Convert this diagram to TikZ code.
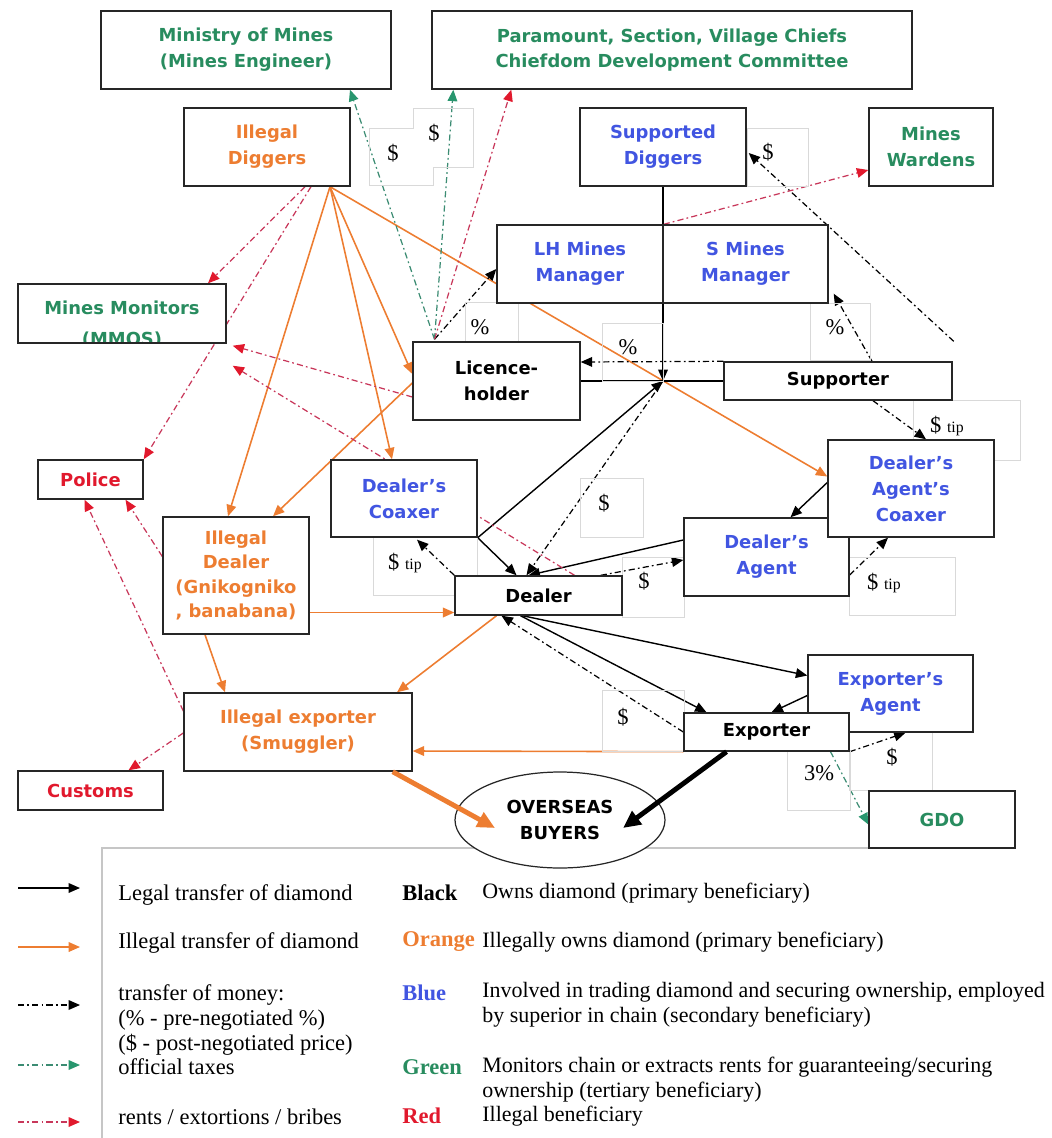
\documentclass[tikz,border=0pt]{standalone}
\usepackage{fontspec}
\setmainfont{Liberation Serif}
\newfontfamily\boxfont{DejaVu Sans}
\usetikzlibrary{arrows.meta,shapes.geometric}
\pgfdeclarelayer{lines}
\pgfsetlayers{lines,main}

\definecolor{mgreen}{RGB}{40,140,95}
\definecolor{morange}{RGB}{237,125,49}
\definecolor{mblue}{RGB}{65,85,225}
\definecolor{mred}{RGB}{225,25,45}
\definecolor{rentline}{RGB}{200,55,90}
\definecolor{taxline}{RGB}{60,140,115}
\definecolor{taxhead}{RGB}{40,150,110}

\tikzset{
  actor/.style={draw=black!85, line width=0.8pt, fill=white, align=center, inner sep=1pt,
    font=\boxfont\bfseries\fontsize{10.2}{14.7}\selectfont},
  boxtext/.style={anchor=base, inner sep=0pt, font=\boxfont\bfseries\fontsize{10.2}{14.7}\selectfont},
  sz/.style 2 args={minimum width=#1*0.02cm, minimum height=#2*0.02cm},
  moneydash/.style={dash pattern=on 3.5pt off 1.8pt on 1pt off 1.8pt},
  legal/.style={draw=black, line width=0.8pt, -{Triangle[length=6.5pt,width=5.5pt]}},
  illegal/.style={draw=morange, line width=0.9pt, -{Triangle[length=6.5pt,width=5.5pt]}},
  money/.style={draw=black, line width=0.7pt, moneydash, -{Triangle[length=6.5pt,width=5.5pt]}},
  tax/.style={draw=taxline, line width=0.7pt, moneydash, -{Triangle[length=6.5pt,width=5.5pt,color=taxhead]}},
  rent/.style={draw=rentline, line width=0.7pt, moneydash, -{Triangle[length=6.5pt,width=5.5pt,color=mred]}},
  plainlink/.style={draw=black, line width=0.8pt},
  tframe/.style={draw=gray!30, line width=0.3pt},
  legendline/.style={draw=gray!45, line width=0.6pt},
  lbl/.style={inner sep=0pt, font=\fontsize{12.8}{14}\selectfont},
  legtext/.style={anchor=west, align=left, inner sep=0pt, font=\fontsize{12.8}{14}\selectfont},
  legdesc/.style={legtext, font=\fontsize{12.5}{14}\selectfont},
  legcolour/.style={legtext, font=\bfseries\fontsize{12.8}{14}\selectfont},
}
\newcommand{\tipword}{{\fontsize{9}{10}\selectfont tip}}

\begin{document}
\begin{tikzpicture}[x=0.02cm, y=-0.02cm]
\useasboundingbox (0,0) rectangle (1051,1138);

% faint frames of the labels
\draw[tframe] (413,108) -- (473,108) -- (473,167) -- (433,167) -- (433,185) -- (369,185) -- (369,128) -- (413,128) -- cycle;
\draw[tframe] (747,128) rectangle (808,186);
\draw[tframe] (465,302) rectangle (518,342);
\draw[tframe] (602,323) rectangle (663,381);
\draw[tframe] (810,303) rectangle (870,360);
\draw[tframe] (913,400) rectangle (1020,460);
\draw[tframe] (580,478) rectangle (643,537);
\draw[tframe] (373,537) rectangle (477,595);
\draw[tframe] (622,557) rectangle (684,617);
\draw[tframe] (849,557) rectangle (955,615);
\draw[tframe] (602,690) rectangle (684,751);
\draw[tframe] (787,751) rectangle (850,810);
\draw[tframe] (849,732) rectangle (932,790);
\draw[legendline] (1015,848) -- (102,848) -- (102,1138);

% actors
\node[actor, sz={290}{78}, text=mgreen] (mines) at (246,50) {Ministry of Mines\\(Mines Engineer)};
\node[actor, sz={480}{78}, text=mgreen] (chiefs) at (672,50) {Paramount, Section, Village Chiefs\\Chiefdom Development Committee};
\node[actor, sz={166}{78}, text=morange] (idig) at (267,147) {Illegal\\Diggers};
\node[actor, sz={166}{78}, text=mblue] (sdig) at (663,147) {Supported\\Diggers};
\node[actor, sz={124}{78}, text=mgreen] (wardens) at (931,147) {Mines\\Wardens};
\node[actor, sz={166}{78}, text=mblue] (lhmm) at (580,264) {LH Mines\\Manager};
\node[actor, sz={165}{78}, text=mblue] (smm) at (745.5,264) {S Mines\\Manager};
\node[actor, sz={208}{59}, path picture={
    \node[boxtext, text=mgreen] (mmostop) at ([yshift=-0.03cm]path picture bounding box.center) {Mines Monitors};
    \node[boxtext, text=mgreen] (mmosbot) at ([yshift=-0.64cm]path picture bounding box.center) {(MMOS)};}]
  (mmos) at (122,313.5) {};
\node[actor, sz={167}{78}] (lh) at (496.5,381) {Licence-\\holder};
\node[actor, sz={228}{38}] (sup) at (838,381) {Supporter};
\node[actor, sz={146}{77}, text=mblue] (dcx) at (404,498.5) {Dealer’s\\Coaxer};
\node[actor, sz={167}{39}] (dealer) at (538.5,595.5) {Dealer};
\node[actor, sz={165}{78}, text=mblue] (dag) at (766.5,557) {Dealer’s\\Agent};
\node[actor, sz={166}{97}, text=mblue] (dagc) at (911,488.5) {Dealer’s\\Agent’s\\Coaxer};
\node[actor, sz={165}{77}, text=mblue] (eag) at (890.5,693.5) {Exporter’s\\Agent};
\node[actor, sz={165}{38}] (exp) at (766.5,732) {Exporter};
\node[actor, sz={146}{57}, text=mgreen] (gdo) at (942,819.5) {GDO};
\node[actor, sz={105}{39}, text=mred] (police) at (90.5,479.5) {Police};
\node[actor, sz={146}{117}, text=morange, font=\boxfont\bfseries\fontsize{10.2}{13.9}\selectfont] (idl) at (236,575.5) {Illegal\\Dealer\\(Gnikogniko\\, banabana)};
\node[actor, sz={228}{78}, text=morange] (iexp) at (298,732) {Illegal exporter\\(Smuggler)};
\node[actor, sz={145}{39}, text=mred] (customs) at (90.5,790.5) {Customs};
\node[actor, ellipse, sz={210}{96}, inner sep=0pt, line width=0.7pt] (buyers) at (560,820) {OVERSEAS\\BUYERS};

\coordinate (jn) at (sdig.south |- lh.east);
\coordinate (og) at ([shift={(-62,-2)}]lh.north);
\coordinate (fromright) at ([shift={(1,-20)}]sup.north east);
\coordinate (rentend) at ([shift={(6,22)}]mmos.south east);

\begin{pgfonlayer}{lines}
% diamonds, illegal
\draw[illegal] ([shift={(63,0)}]idig.south) -- ([shift={(-8,0)}]idl.north);
\draw[illegal] ([shift={(63,0)}]idig.south) -- ([shift={(-12,0)}]dcx.north);
\draw[illegal] ([shift={(63,0)}]idig.south) -- ([shift={(0,-7)}]lh.west);
\draw[illegal] ([shift={(63,0)}]idig.south) -- ([shift={(0,-12)}]dagc.west);
\draw[illegal] ([shift={(0,2)}]lh.west) -- ([shift={(37,0)}]idl.north);
\draw[illegal] ([shift={(0,37)}]idl.east) -- ([shift={(0,17)}]dealer.west);
\draw[illegal] ([shift={(-31,0)}]idl.south) -- ([shift={(-73,0)}]iexp.north);
\draw[illegal] ([shift={(-42,0)}]dealer.south) -- ([shift={(99,0)}]iexp.north);
\draw[illegal] (exp.south west) -- ([shift={(0,19)}]iexp.east);

% diamonds, legal
\draw[legal] (dcx.south east) -- (jn);
\draw[legal] (dcx.south east) -- ([shift={(-22,0)}]dealer.north);
\draw[legal] ([shift={(0,-17)}]dag.west) -- ([shift={(-10,0)}]dealer.north);
\draw[legal] ([shift={(0,-6)}]dagc.west) -- ([shift={(24,0)}]dag.north);
\draw[legal] ([shift={(-16,0)}]dealer.south) -- ([shift={(0,-18)}]eag.west);
\draw[legal] ([shift={(-18,0)}]dealer.south) -- ([shift={(-60,0)}]exp.north);
\draw[legal] ([shift={(0,2)}]eag.west) -- ([shift={(5,0)}]exp.north);
\draw[legal] (sdig.south) -- (jn);
\draw[plainlink] (lh.east) -- (sup.west);

% money
\draw[money] (sup.north west) -- ([shift={(0,-19)}]lh.east);
\draw[money] ([shift={(34,0)}]sup.north) -- ([shift={(5,-10)}]smm.south east);
\draw[money] (fromright) -- ([shift={(2,6)}]sdig.east);
\draw[money] ([shift={(35,0)}]sup.south) -- ([shift={(15,0)}]dagc.north);
\draw[money] ([shift={(0,18)}]dag.east) -- ([shift={(-23,0)}]dagc.south);
\draw[money] ([shift={(-22,0)}]dealer.north east) -- ([shift={(0,3)}]dag.west);
\draw[money] (dealer.north west) -- ([shift={(13,2)}]dcx.south);
\draw[money] (jn) -- ([shift={(-12,0)}]dealer.north);
\draw[money] (exp.west) -- ([shift={(-37,0)}]dealer.south);
\draw[money] (exp.south east) -- ([shift={(15,0)}]eag.south);
\draw[money] (og) -- ([shift={(0,5)}]lhmm.west);

% taxes
\draw[tax] (og) -- ([shift={(104,0)}]mines.south);
\draw[tax] (og) -- ([shift={(22,0)}]chiefs.south west);
\draw[tax] ([shift={(64,0)}]exp.south) -- ([shift={(0,5)}]gdo.west);

% rents
\draw[rent] (og) -- ([shift={(80,0)}]chiefs.south west);
\draw[rent] ([shift={(38,0)}]idig.south) -- ([shift={(86,0)}]mmos.north);
\draw[rent] ([shift={(44,0)}]idig.south) -- (police.north east);
\draw[rent] ([shift={(0,16)}]lh.west) -- ([shift={(6,2)}]mmos.south east);
\draw[rent] ([shift={(36,0)}]dealer.north) -- (rentend);
\draw[rent] ([shift={(0,-19)}]idl.west) -- ([shift={(35,0)}]police.south);
\draw[rent] ([shift={(0,-21)}]iexp.west) -- ([shift={(-6,0)}]police.south);
\draw[rent] ([shift={(0,1)}]iexp.west) -- ([shift={(38,0)}]customs.north);
\draw[rent] (lhmm.north east) -- ([shift={(0,23)}]wardens.west);
\end{pgfonlayer}

% to the buyers
\draw[draw=morange, line width=2.8pt, -{Triangle[length=10pt,width=9pt]}] ([shift={(-20,0)}]iexp.south east) -- ([shift={(-65,8)}]buyers.center);
\draw[draw=black, line width=2.8pt, -{Triangle[length=10pt,width=9pt]}] ([shift={(-40,0)}]exp.south) -- ([shift={(63,8)}]buyers.center);

% amounts
\node[lbl] (m1) at (393,153) {\$};
\node[lbl] (m2) at (434,133) {\$};
\node[lbl] (m3) at (480,327) {\%};
\node[lbl] (m4) at (768,152) {\$};
\node[lbl] (m5) at (628,347) {\%};
\node[lbl] (m6) at (835,327) {\%};
\node[lbl] (m7) at (947,426) {\$ \tipword};
\node[lbl] (m8) at (604,503) {\$};
\node[lbl] (m9) at (405,563) {\$ \tipword};
\node[lbl] (m10) at (644,581) {\$};
\node[lbl] (m11) at (884,583) {\$ \tipword};
\node[lbl] (m12) at (623,717) {\$};
\node[lbl] (m13) at (819,773) {3\%};
\node[lbl] (m14) at (892,757) {\$};

% key
\foreach \st/\yy [count=\i] in {legal/888, illegal/947, money/1005, tax/1065, rent/1122} {
  \coordinate (keya\i) at (18,\yy);
  \coordinate (keyb\i) at (80,\yy);
  \draw[\st] (keya\i) -- (keyb\i);
}
\node[legtext] (k1) at (118,895) {Legal transfer of diamond};
\node[legtext] (k2) at (118,943) {Illegal transfer of diamond};
\node[legtext] (k3) at (118,1030) {transfer of money:\\(\% - pre-negotiated \%)\\(\$ - post-negotiated price)\\official taxes};
\node[legtext] (k4) at (118,1117) {rents / extortions / bribes};

\node[legcolour] (c1) at (402,893) {Black};
\node[legcolour, text=morange] (c2) at (402,942) {Orange};
\node[legcolour, text=mblue] (c3) at (402,993) {Blue};
\node[legcolour, text=mgreen] (c4) at (402,1067) {Green};
\node[legcolour, text=mred] (c5) at (402,1116) {Red};

\node[legdesc] (d1) at (482,893) {Owns diamond (primary beneficiary)};
\node[legdesc] (d2) at (482,942) {Illegally owns diamond (primary beneficiary)};
\node[legdesc] (d3) at (482,1005) {Involved in trading diamond and securing ownership, employed\\by superior in chain (secondary beneficiary)};
\node[legdesc] (d4) at (482,1079.5) {Monitors chain or extracts rents for guaranteeing/securing\\ownership (tertiary beneficiary)};
\node[legdesc] (d5) at (482,1116) {Illegal beneficiary};
\end{tikzpicture}
\end{document}
